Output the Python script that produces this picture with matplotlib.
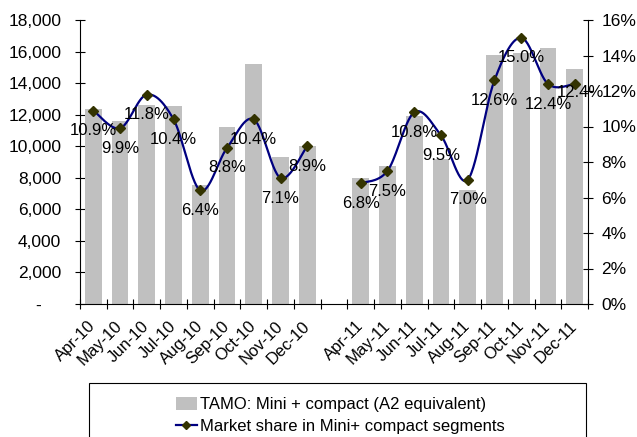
import numpy as np
import matplotlib
matplotlib.use("Agg")
import matplotlib.pyplot as plt
import matplotlib.transforms as mtransforms
from matplotlib.patches import Rectangle, Patch
from matplotlib.lines import Line2D
from matplotlib.ticker import FuncFormatter

plt.rcParams['font.family'] = ['Liberation Sans', 'DejaVu Sans']

# Monthly data, FY2010 and FY2011 (Apr-Dec)
months_2010 = ["Apr-10", "May-10", "Jun-10", "Jul-10", "Aug-10",
               "Sep-10", "Oct-10", "Nov-10", "Dec-10"]
months_2011 = ["Apr-11", "May-11", "Jun-11", "Jul-11", "Aug-11",
               "Sep-11", "Oct-11", "Nov-11", "Dec-11"]
volume_2010 = [12350, 11600, 12600, 12550, 7550, 11200, 15200, 9300, 10000]
volume_2011 = [8000, 8750, 11900, 9200, 7200, 15800, 15900, 16200, 14900]
share_2010 = [10.9, 9.9, 11.8, 10.4, 6.4, 8.8, 10.4, 7.1, 8.9]
share_2011 = [6.8, 7.5, 10.8, 9.5, 7.0, 12.6, 15.0, 12.4, 12.4]

bar_label = "TAMO: Mini + compact (A2 equivalent)"
line_label = "Market share in Mini+ compact segments"

BAR_COLOR = "#C0C0C0"
LINE_COLOR = "#000080"
MARKER_COLOR = "#333300"

# one empty category separates the two years
x_2010 = np.arange(len(months_2010))
x_2011 = np.arange(len(months_2011)) + len(months_2010) + 1
categories = months_2010 + [""] + months_2011
n_cat = len(categories)


def smooth(xs, ys, steps=30):
    """Catmull-Rom style smoothed curve through the points."""
    px = np.concatenate([[xs[0]], xs, [xs[-1]]]).astype(float)
    py = np.concatenate([[ys[0]], ys, [ys[-1]]]).astype(float)
    out_x, out_y = [], []
    t = np.linspace(0, 1, steps)
    for i in range(1, len(px) - 2):
        p0 = np.array([px[i], py[i]])
        p3 = np.array([px[i + 1], py[i + 1]])
        p1 = p0 + (p3 - np.array([px[i - 1], py[i - 1]])) / 6.0
        p2 = p3 - (np.array([px[i + 2], py[i + 2]]) - p0) / 6.0
        b = ((1 - t) ** 3)[:, None] * p0 + (3 * (1 - t) ** 2 * t)[:, None] * p1 \
            + (3 * (1 - t) * t ** 2)[:, None] * p2 + (t ** 3)[:, None] * p3
        out_x.extend(b[:, 0])
        out_y.extend(b[:, 1])
    return np.array(out_x), np.array(out_y)


W, H = 637, 437
fig = plt.figure(figsize=(W / 100, H / 100), dpi=100)
ax = fig.add_axes([80 / W, 1 - 304 / H, 508 / W, 284 / H])
ax2 = ax.twinx()

# bars
ax.bar(x_2010, volume_2010, width=0.625, color=BAR_COLOR, zorder=2)
ax.bar(x_2011, volume_2011, width=0.625, color=BAR_COLOR, zorder=2)
ax.set_xlim(-0.5, n_cat - 0.5)
ax.set_ylim(0, 18000)
ax.set_yticks(np.arange(0, 18001, 2000))
ax.yaxis.set_major_formatter(FuncFormatter(
    lambda v, p: "-    " if v == 0 else f"{v:,.0f}"))

# category boundaries carry the tick marks, centres carry the labels
ax.set_xticks(np.arange(-0.5, n_cat, 1))
ax.set_xticklabels([])
ax.set_xticks(np.arange(n_cat), minor=True)
ax.set_xticklabels(categories, minor=True, rotation=45, ha="right",
                   va="center", rotation_mode="anchor", fontsize=12)
shift = mtransforms.ScaledTranslation(-7 / 72, 0, fig.dpi_scale_trans)
for lbl in ax.get_xticklabels(minor=True):
    lbl.set_transform(lbl.get_transform() + shift)

ax.tick_params(axis="x", which="major", direction="inout", length=7,
               width=0.8, color="black")
ax.tick_params(axis="x", which="minor", length=0, pad=14)
ax.tick_params(axis="y", direction="inout", length=7, width=0.8,
               labelsize=12.5, pad=10, color="black")

for s in ["top", "right"]:
    ax.spines[s].set_visible(False)
for s in ["left", "bottom"]:
    ax.spines[s].set_linewidth(0.8)
    ax.spines[s].set_color("black")
for s in ["top", "left", "bottom"]:
    ax2.spines[s].set_visible(False)
ax2.spines["right"].set_linewidth(0.8)
ax2.spines["right"].set_color("black")

ax2.set_ylim(0, 16)
ax2.set_yticks(np.arange(0, 17, 2))
ax2.yaxis.set_major_formatter(FuncFormatter(lambda v, p: f"{v:.0f}%"))
ax2.tick_params(axis="y", direction="inout", length=7, width=0.8,
                labelsize=12.5, pad=6, color="black")

# market share line
for xs, ys in [(x_2010, share_2010), (x_2011, share_2011)]:
    sx, sy = smooth(xs, ys)
    ax2.plot(sx, sy, color=LINE_COLOR, lw=1.6, zorder=3,
             solid_capstyle="round")
    ax2.plot(xs, ys, linestyle="none", marker="D", markersize=5,
             color=MARKER_COLOR, zorder=4)

# value labels, placed below each marker
label_offsets = {("2011", 8): (4, -6)}
for year, xs, ys in [("2010", x_2010, share_2010), ("2011", x_2011, share_2011)]:
    for i, (xv, yv) in enumerate(zip(xs, ys)):
        off = label_offsets.get((year, i), (0, -14.5))
        ax2.annotate(f"{yv:.1f}%", (xv, yv), xytext=off,
                     textcoords="offset points", ha="center", va="center",
                     fontsize=12, color="black", zorder=5)

# legend
handles = [Patch(facecolor=BAR_COLOR, edgecolor="none"),
           Line2D([], [], color=LINE_COLOR, lw=1.6, marker="D",
                  markersize=4, markerfacecolor=MARKER_COLOR,
                  markeredgecolor=MARKER_COLOR)]
fig.legend(handles, [bar_label, line_label], loc="upper center",
           bbox_to_anchor=(340 / W, 1 - 389 / H), frameon=False,
           fontsize=12, handlelength=1.3, handleheight=0.8,
           handletextpad=0.15, labelspacing=0.36, borderpad=0)
fig.patches.append(Rectangle((89 / W, -0.1), (586 - 89) / W,
                             0.1 + 1 - 383 / H, transform=fig.transFigure,
                             fill=False, edgecolor="black", lw=0.8))

fig.savefig("out.png", dpi=100)
